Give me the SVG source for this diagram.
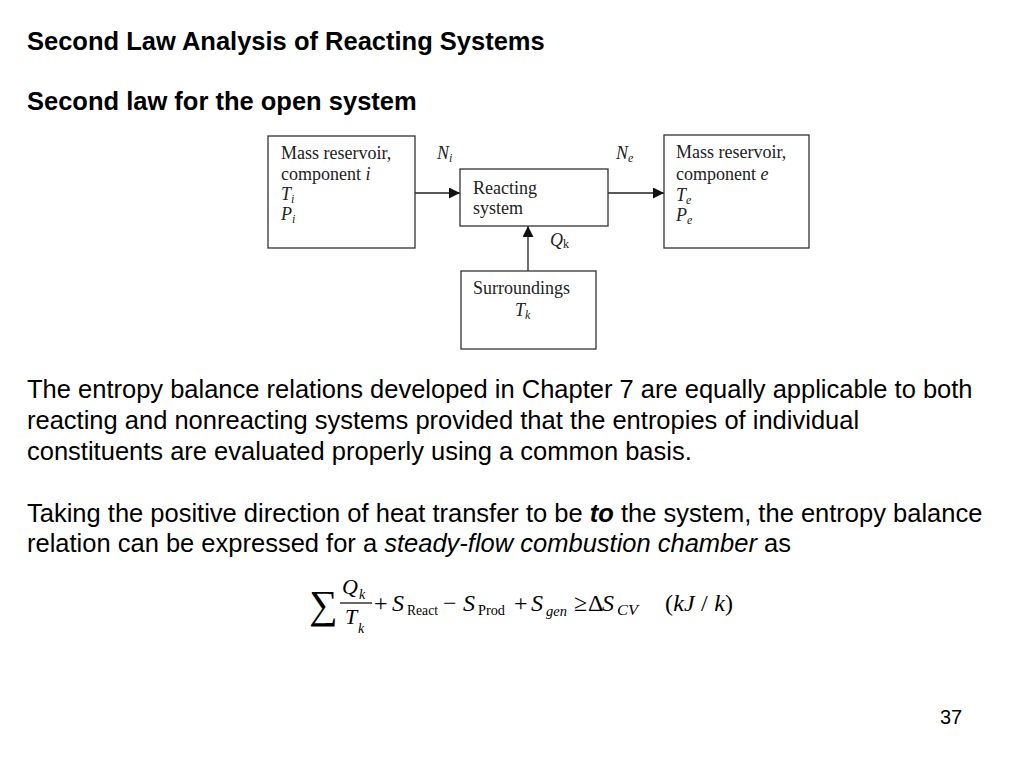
<svg xmlns="http://www.w3.org/2000/svg" width="1024" height="768" viewBox="0 0 1024 768">
<style>
.h{font-family:"Liberation Sans",Arial,sans-serif;font-weight:bold;font-size:25.5px;fill:#000}
.p{font-family:"Liberation Sans",Arial,sans-serif;font-size:25.5px;fill:#000}
.d{font-family:"Liberation Serif","Times New Roman",serif;font-size:18px;fill:#222}
.sb{font-size:12px}
.box{fill:#fff;stroke:#333;stroke-width:1.3}
.ln{stroke:#222;stroke-width:1.3;fill:none}
.m{font-family:"Liberation Serif","Times New Roman",serif;fill:#000}
</style>
<defs>
<marker id="ah" viewBox="0 0 10 10" refX="10" refY="5" markerWidth="11" markerHeight="11" markerUnits="userSpaceOnUse" orient="auto">
<path d="M0,0 L10,5 L0,10 Z" fill="#111"/>
</marker>
</defs>
<rect width="1024" height="768" fill="#fff"/>
<text class="h" x="27" y="50">Second Law Analysis of Reacting Systems</text>
<text class="h" x="27" y="110">Second law for the open system</text>

<g id="connectors">
<line class="ln" x1="415" y1="193" x2="460" y2="193" marker-end="url(#ah)"/>
<line class="ln" x1="608" y1="193" x2="664" y2="193" marker-end="url(#ah)"/>
<line class="ln" x1="528" y1="271" x2="528" y2="226" marker-end="url(#ah)"/>
<text class="d" x="437" y="159" font-style="italic">N<tspan class="sb" dy="3">i</tspan></text>
<text class="d" x="616" y="159" font-style="italic">N<tspan class="sb" dy="3">e</tspan></text>
<text class="d" x="550" y="246" font-style="italic">Q<tspan class="sb" dy="2" font-style="normal">k</tspan></text>
</g>

<g id="reservoir-i">
<rect class="box" x="268" y="136" width="147" height="112"/>
<text class="d" x="281" y="159">Mass reservoir,</text>
<text class="d" x="281" y="180">component <tspan font-style="italic">i</tspan></text>
<text class="d" x="281" y="200" font-style="italic">T<tspan class="sb" dy="3">i</tspan></text>
<text class="d" x="281" y="220" font-style="italic">P<tspan class="sb" dy="3">i</tspan></text>
</g>

<g id="reacting-system">
<rect class="box" x="460" y="169" width="148" height="57"/>
<text class="d" x="473" y="194">Reacting</text>
<text class="d" x="473" y="214">system</text>
</g>

<g id="reservoir-e">
<rect class="box" x="664" y="135" width="145" height="113"/>
<text class="d" x="676" y="158">Mass reservoir,</text>
<text class="d" x="676" y="180">component <tspan font-style="italic">e</tspan></text>
<text class="d" x="676" y="201" font-style="italic">T<tspan class="sb" dy="3">e</tspan></text>
<text class="d" x="676" y="221" font-style="italic">P<tspan class="sb" dy="3">e</tspan></text>
</g>

<g id="surroundings">
<rect class="box" x="461" y="271" width="135" height="78"/>
<text class="d" x="473" y="294">Surroundings</text>
<text class="d" x="515" y="316" font-style="italic">T<tspan class="sb" dy="3">k</tspan></text>
</g>

<text class="p" x="27" y="398">The entropy balance relations developed in Chapter 7 are equally applicable to both</text>
<text class="p" x="27" y="429">reacting and nonreacting systems provided that the entropies of individual</text>
<text class="p" x="27" y="460">constituents are evaluated properly using a common basis.</text>
<text class="p" x="27" y="522">Taking the positive direction of heat transfer to be <tspan font-weight="bold" font-style="italic">to</tspan> the system, the entropy balance</text>
<text class="p" x="27" y="552">relation can be expressed for a <tspan font-style="italic">steady-flow combustion chamber</tspan> as</text>

<g id="equation" class="m">
<text x="309" y="618" font-size="40">∑</text>
<text x="342" y="594" font-size="22" font-style="italic">Q</text>
<text x="359" y="599" font-size="14" font-style="italic">k</text>
<line x1="340" y1="603" x2="372" y2="603" stroke="#000" stroke-width="1.2"/>
<text x="345" y="624" font-size="22" font-style="italic">T</text>
<text x="358" y="633" font-size="14" font-style="italic">k</text>
<text x="374" y="611" font-size="24">+</text>
<text x="392" y="611" font-size="24" font-style="italic">S</text>
<text x="407" y="615" font-size="15" textLength="31" lengthAdjust="spacingAndGlyphs">React</text>
<text x="443" y="611" font-size="24">−</text>
<text x="463" y="611" font-size="24" font-style="italic">S</text>
<text x="478" y="615" font-size="15" textLength="27" lengthAdjust="spacingAndGlyphs">Prod</text>
<text x="514" y="611" font-size="24">+</text>
<text x="531" y="611" font-size="24" font-style="italic">S</text>
<text x="546" y="616" font-size="15" font-style="italic" textLength="21" lengthAdjust="spacingAndGlyphs">gen</text>
<text x="574" y="611" font-size="24">≥</text>
<text x="588" y="611" font-size="24">Δ</text>
<text x="602" y="611" font-size="24" font-style="italic">S</text>
<text x="617" y="615" font-size="15" font-style="italic" textLength="21" lengthAdjust="spacingAndGlyphs">CV</text>
<text x="665" y="611" font-size="24" textLength="68" lengthAdjust="spacing">(<tspan font-style="italic">kJ</tspan> / <tspan font-style="italic">k</tspan>)</text>
</g>

<text x="940" y="724" style="font-family:'Liberation Sans',Arial,sans-serif;font-size:20px;fill:#000">37</text>
</svg>
